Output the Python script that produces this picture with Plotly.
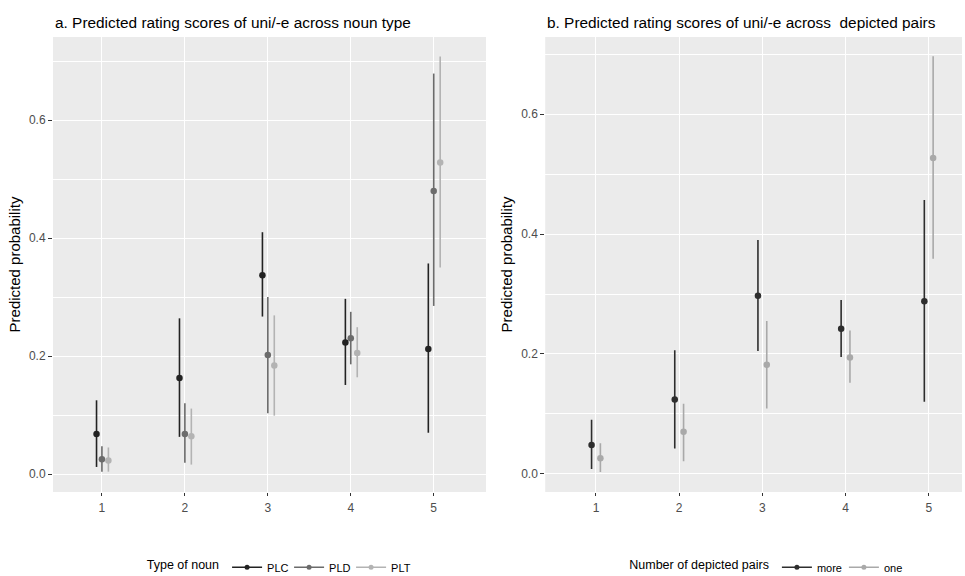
import plotly.graph_objects as go

# ---------------- data ----------------
categories = [1, 2, 3, 4, 5]

# Panel a: noun type
plc_est = [0.068, 0.163, 0.337, 0.223, 0.212]
plc_lo = [0.012, 0.063, 0.267, 0.151, 0.070]
plc_hi = [0.125, 0.264, 0.410, 0.297, 0.357]

pld_est = [0.025, 0.068, 0.202, 0.230, 0.480]
pld_lo = [0.004, 0.019, 0.103, 0.186, 0.285]
pld_hi = [0.047, 0.120, 0.300, 0.275, 0.679]

plt_est = [0.023, 0.064, 0.184, 0.205, 0.528]
plt_lo = [0.004, 0.016, 0.099, 0.164, 0.350]
plt_hi = [0.045, 0.111, 0.269, 0.249, 0.708]

# Panel b: number of depicted pairs
more_est = [0.048, 0.124, 0.297, 0.242, 0.288]
more_lo = [0.008, 0.042, 0.205, 0.195, 0.120]
more_hi = [0.090, 0.206, 0.390, 0.290, 0.457]

one_est = [0.026, 0.070, 0.182, 0.194, 0.527]
one_lo = [0.003, 0.021, 0.109, 0.152, 0.359]
one_hi = [0.051, 0.117, 0.255, 0.239, 0.697]

y_ticks = [0.0, 0.2, 0.4, 0.6]
y_tick_labels = ["0.0", "0.2", "0.4", "0.6"]

title_a = "a. Predicted rating scores of uni/-e across noun type"
title_b = "b. Predicted rating scores of uni/-e across  depicted pairs"
ylab = "Predicted probability"
legend_title_a = "Type of noun"
legend_title_b = "Number of depicted pairs"

# ---------------- styling ----------------
FONT = "Liberation Sans, Arial, sans-serif"
C_PLC, C_PLD, C_PLT = "#222222", "#6b6b6b", "#b3b3b3"
C_MORE, C_ONE = "#2e2e2e", "#a9a9a9"
PANEL_BG = "#ebebeb"

fig = go.Figure()


def add_series(name, est, lo, hi, offset, color, xa, ya, legend):
    xs = [c + offset for c in categories]
    fig.add_trace(go.Scatter(
        x=xs, y=est, mode="markers",
        marker=dict(color=color, size=6.5),
        error_y=dict(type="data", symmetric=False,
                     array=[h - e for h, e in zip(hi, est)],
                     arrayminus=[e - l for e, l in zip(est, lo)],
                     color=color, thickness=1.6, width=0),
        xaxis=xa, yaxis=ya, showlegend=False, hoverinfo="x+y",
    ))
    # legend key (line + point)
    fig.add_trace(go.Scatter(
        x=[None], y=[None], mode="lines+markers", name=name,
        line=dict(color=color, width=1.6), marker=dict(color=color, size=5),
        xaxis=xa, yaxis=ya, showlegend=True, legend=legend,
    ))


add_series("PLC", plc_est, plc_lo, plc_hi, -0.065, C_PLC, "x", "y", "legend")
add_series("PLD", pld_est, pld_lo, pld_hi, 0.0, C_PLD, "x", "y", "legend")
add_series("PLT", plt_est, plt_lo, plt_hi, 0.078, C_PLT, "x", "y", "legend")

add_series("more", more_est, more_lo, more_hi, -0.053, C_MORE, "x2", "y2", "legend2")
add_series("one", one_est, one_lo, one_hi, 0.053, C_ONE, "x2", "y2", "legend2")

tick_font = dict(family=FONT, size=12, color="#4d4d4d")
xcommon = dict(
    tickmode="array", tickvals=categories, ticktext=[str(c) for c in categories],
    showgrid=True, gridcolor="white", gridwidth=1.1, zeroline=False,
    ticks="outside", ticklen=3, tickcolor="#333333", tickwidth=1,
    tickfont=tick_font, showline=False, automargin=False, ticklabelstandoff=2,
)
ycommon = dict(
    tickmode="array", tickvals=y_ticks, ticktext=y_tick_labels,
    showgrid=True, gridcolor="white", gridwidth=1.1, zeroline=False,
    ticks="outside", ticklen=4, tickcolor="#333333", tickwidth=1,
    tickfont=tick_font, showline=False, automargin=False,
    minor=dict(tickmode="linear", tick0=0.1, dtick=0.2, showgrid=True,
               gridcolor="white", gridwidth=0.5, ticks=""),
    title=dict(text=ylab, font=dict(family=FONT, size=15, color="black"), standoff=4),
)

legend_common = dict(orientation="h", y=-0.01, yanchor="bottom",
                     bgcolor="rgba(0,0,0,0)", itemwidth=30, tracegroupgap=0,
                     font=dict(family=FONT, size=11))

fig.update_layout(
    width=965, height=576,
    paper_bgcolor="white", plot_bgcolor=PANEL_BG,
    margin=dict(l=0, r=0, t=0, b=0, autoexpand=False),
    font=dict(family=FONT, color="black"),
    xaxis=dict(domain=[0.0549, 0.5036], range=[0.41, 5.63], anchor="y", **xcommon),
    yaxis=dict(domain=[0.1458, 0.9358], range=[-0.0305, 0.741], anchor="x", **ycommon),
    xaxis2=dict(domain=[0.5650, 0.9969], range=[0.39, 5.40], anchor="y2", **xcommon),
    yaxis2=dict(domain=[0.1458, 0.9358], range=[-0.0305, 0.729], anchor="x2", **ycommon),
    legend=dict(x=0.150, xanchor="left", entrywidth=17,
                title=dict(text=legend_title_a, font=dict(family=FONT, size=12.5)),
                **legend_common),
    legend2=dict(x=0.650, xanchor="left", entrywidth=22,
                 title=dict(text=legend_title_b, font=dict(family=FONT, size=12.5)),
                 **legend_common),
    annotations=[
        dict(text=title_a, x=0.0549, xref="paper", xanchor="left",
             y=0.9358, yref="paper", yanchor="bottom", yshift=4, showarrow=False,
             font=dict(family=FONT, size=15.4, color="black")),
        dict(text=title_b, x=0.5650, xref="paper", xanchor="left",
             y=0.9358, yref="paper", yanchor="bottom", yshift=4, showarrow=False,
             font=dict(family=FONT, size=15.4, color="black")),
    ],
)

fig.write_html("out.html", config={"displayModeBar": False},
               post_script="document.body.style.margin='0px';")
